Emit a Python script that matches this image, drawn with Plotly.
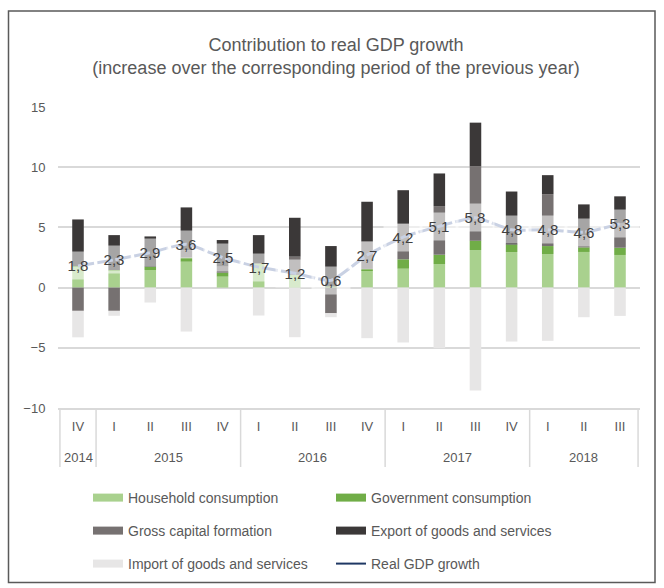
import plotly.graph_objects as go

# ---- data ----
years = ["2014", "2015", "2015", "2015", "2015", "2016", "2016", "2016", "2016",
         "2017", "2017", "2017", "2017", "2018", "2018", "2018"]
quarters = ["IV", "I", "II", "III", "IV", "I", "II", "III", "IV",
            "I", "II", "III", "IV", "I", "II", "III"]

household = [1.74, 1.41, 1.46, 2.15, 0.91, 2.00, 1.05, 0.10, 1.41, 1.57, 1.96, 3.12, 2.95, 2.79, 2.96, 2.71]
government = [0.05, 0.05, 0.28, 0.34, 0.33, 0.00, 0.00, 0.00, 0.14, 0.78, 0.77, 0.78, 0.63, 0.66, 0.38, 0.60]
capital = [-1.93, -1.93, 0.00, 0.60, 0.50, 0.00, 1.52, -2.13, 2.26, 2.93, 4.04, 6.18, 0.00, 4.31, 1.00, 2.00]
export = [3.87, 2.90, 2.51, 3.57, 2.21, 2.36, 3.23, 3.35, 3.32, 2.81, 2.71, 3.62, 4.40, 1.58, 2.57, 2.27]
imports = [-2.20, -0.41, -1.24, -3.65, 0.00, -2.32, -4.12, -0.33, -4.20, -4.56, -5.03, -8.54, -4.48, -4.42, -2.46, -2.35]
gdp = [1.8, 2.3, 2.9, 3.6, 2.5, 1.7, 1.2, 0.6, 2.7, 4.2, 5.1, 5.8, 4.8, 4.8, 4.6, 5.3]

series_names = ["Household consumption", "Government consumption", "Gross capital formation",
                "Export of goods and services", "Import of goods and services"]
series_colors = ["#A9D18E", "#70AD47", "#767171", "#3B3838", "#E7E6E6"]
gdp_name = "Real GDP growth"

FONT = "Arial, Liberation Sans, sans-serif"
TXT = "#595959"
W, H = 664, 588
ML, MR, MT, MB = 58, 24, 107, 180

cats = [f"{y} {q}" for y, q in zip(years, quarters)]
fig = go.Figure()

for name, vals, col in zip(series_names, [household, government, capital, export, imports], series_colors):
    fig.add_trace(go.Bar(x=cats, y=vals, name=name, marker=dict(color=col, line=dict(width=0)),
                         showlegend=False, hoverinfo="skip"))

fig.add_trace(go.Scatter(x=cats, y=gdp, mode="lines", name=gdp_name, showlegend=False,
                         line=dict(color="#8799C2", width=3, dash="16px,3px", shape="spline", smoothing=0.5)))

# legend-only entries
legend_ids = ["legend", "legend", "legend2", "legend2", "legend3"]
for name, col, lg in zip(series_names, series_colors, legend_ids):
    fig.add_trace(go.Scatter(x=[None], y=[None], mode="lines", name=name, legend=lg,
                             line=dict(color=col, width=8)))
fig.add_trace(go.Scatter(x=[None], y=[None], mode="lines", name=gdp_name, legend="legend3",
                         line=dict(color="#1F3864", width=2)))

# data labels with translucent boxes
for c, v in zip(cats, gdp):
    fig.add_annotation(x=c, y=v, xref="x", yref="y", text=f"{v:.1f}".replace(".", ","),
                       showarrow=False, font=dict(family=FONT, size=15, color="#404040"),
                       bgcolor="rgba(255,255,255,0.55)", width=36, height=25, borderpad=1,
                       xanchor="center", yanchor="middle")

pw = W - ML - MR
ph = H - MT - MB
def px_x(p):
    return (p - ML) / pw
def px_y(p):
    return (H - MB - p) / ph

# year labels and group dividers of the category axis
groups = []
for i, y in enumerate(years):
    if not groups or groups[-1][0] != y:
        groups.append([y, i, i])
    else:
        groups[-1][2] = i
for y, a, b in groups:
    fig.add_annotation(x=(a + b) / 2, y=px_y(457), xref="x", yref="paper", text=y, showarrow=False,
                       font=dict(family=FONT, size=13, color=TXT), xanchor="center", yanchor="middle")
bounds = [groups[0][1] - 0.5] + [b + 0.5 for _, _, b in groups]
for bx in bounds:
    fig.add_shape(type="line", xref="x", yref="paper", x0=bx, x1=bx, y0=0, y1=px_y(467),
                  line=dict(color="#D9D9D9", width=1.5), layer="below")

# outer border
fig.add_shape(type="rect", xref="paper", yref="paper", x0=px_x(8.5), x1=px_x(655), y0=px_y(582.5), y1=px_y(11),
              line=dict(color="#5A5A5A", width=1.5), fillcolor="rgba(0,0,0,0)", layer="above")

leg_common = dict(orientation="h", xref="container", yref="container", xanchor="left", yanchor="middle",
                  entrywidth=198, entrywidthmode="pixels", font=dict(family=FONT, size=14, color=TXT),
                  bgcolor="rgba(0,0,0,0)", itemclick=False, itemdoubleclick=False)

fig.update_layout(
    width=W, height=H,
    margin=dict(l=ML, r=MR, t=MT, b=MB),
    paper_bgcolor="white", plot_bgcolor="white",
    barmode="relative", bargap=0.68,
    font=dict(family=FONT, color=TXT),
    title=dict(text="Contribution to real GDP growth<br>(increase over the corresponding period of the previous year)",
               xref="container", x=336 / W, xanchor="center", yref="container", y=1 - 51 / H, yanchor="top",
               font=dict(family=FONT, size=18, color=TXT)),
    legend=dict(x=88 / W, y=1 - 498 / H, **leg_common),
    legend2=dict(x=88 / W, y=1 - 531 / H, **leg_common),
    legend3=dict(x=88 / W, y=1 - 564 / H, **leg_common),
    xaxis=dict(type="category", categoryorder="array", categoryarray=cats, tickvals=cats, ticktext=quarters,
               showgrid=False, showline=True, linecolor="#D9D9D9", linewidth=1.5,
               ticks="outside", ticklen=6, tickcolor="rgba(0,0,0,0)",
               tickfont=dict(family=FONT, size=13, color=TXT)),
    yaxis=dict(range=[-10, 15], dtick=5, showgrid=True, gridcolor="#D9D9D9", gridwidth=1.5,
               zeroline=True, zerolinecolor="#D9D9D9", zerolinewidth=1.5, showline=False,
               ticks="outside", ticklen=9, tickcolor="rgba(0,0,0,0)",
               tickfont=dict(family=FONT, size=13, color=TXT)),
)

fig.write_html("out.html")
